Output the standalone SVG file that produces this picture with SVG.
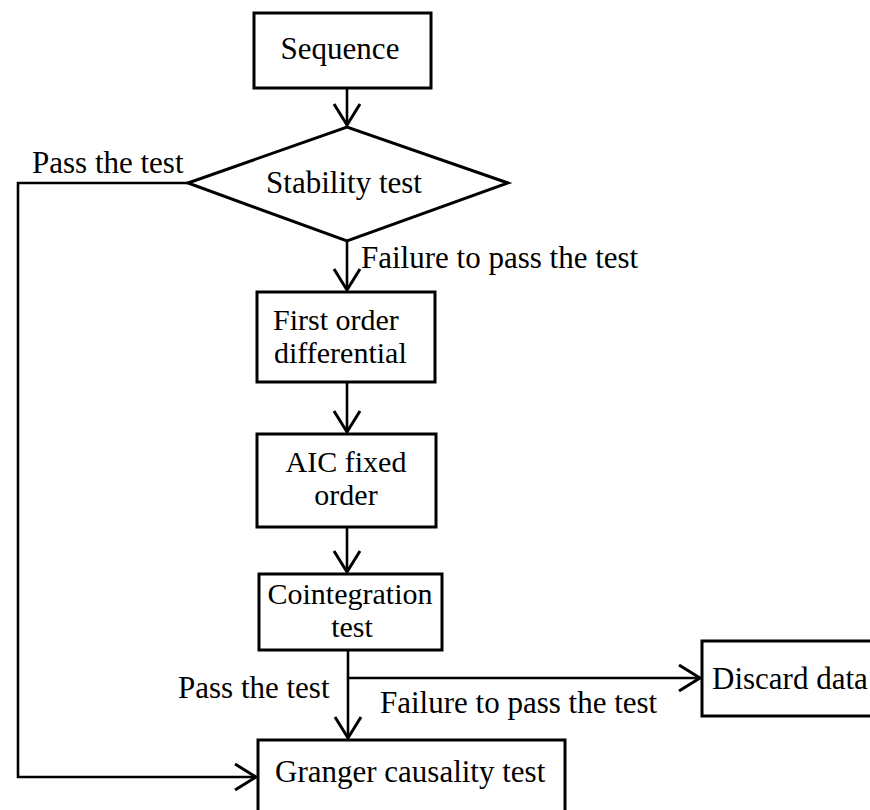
<svg xmlns="http://www.w3.org/2000/svg" width="870" height="810" viewBox="0 0 870 810">
  <style>
    .box { fill: #ffffff; stroke: #000000; stroke-width: 3; }
    .edge { fill: none; stroke: #000000; stroke-width: 2.6; }
    .lbl { font-family: 'Liberation Serif', 'Times New Roman', serif; font-size: 31px; fill: #000000; }
    .two { font-size: 30px; }
    .mid { text-anchor: middle; }
  </style>
  <defs>
    <marker id="arrow" markerUnits="userSpaceOnUse" markerWidth="30" markerHeight="34" refX="0" refY="0" viewBox="-24 -17 30 34" orient="auto" overflow="visible">
      <path d="M -21 -13 L 0 0 L -21 13" fill="none" stroke="#000000" stroke-width="3"/>
    </marker>
  </defs>
  <rect width="870" height="810" fill="#ffffff"/>

  <!-- flow lines with open arrowheads, and their branch labels -->
  <g id="connectors">
    <line class="edge" x1="347" y1="88" x2="347" y2="125" marker-end="url(#arrow)"/>
    <line class="edge" x1="347" y1="241" x2="347" y2="290" marker-end="url(#arrow)"/>
    <polyline class="edge" points="188,183 18,183 18,777 256,777" marker-end="url(#arrow)"/>
    <line class="edge" x1="347" y1="382" x2="347" y2="432" marker-end="url(#arrow)"/>
    <line class="edge" x1="347" y1="527" x2="347" y2="572" marker-end="url(#arrow)"/>
    <line class="edge" x1="348" y1="650" x2="348" y2="738" marker-end="url(#arrow)"/>
    <line class="edge" x1="348" y1="678" x2="700" y2="678" marker-end="url(#arrow)"/>
    <text class="lbl" x="32" y="173">Pass the test</text>
    <text class="lbl" x="361" y="268">Failure to pass the test</text>
    <text class="lbl" x="178" y="698">Pass the test</text>
    <text class="lbl" x="380" y="713">Failure to pass the test</text>
  </g>

  <g id="sequence">
    <rect class="box" x="254" y="13" width="177" height="75"/>
    <text class="lbl mid" x="340" y="59">Sequence</text>
  </g>

  <g id="stability-test">
    <polygon class="box" stroke-width="2.6" points="188,183 347,127 508,183 347,241"/>
    <text class="lbl mid" x="344" y="193">Stability test</text>
  </g>

  <g id="first-order-differential">
    <rect class="box" x="257" y="292" width="178" height="90"/>
    <text class="lbl two" x="273" y="330">First order<tspan x="274" y="363">differential</tspan></text>
  </g>

  <g id="aic-fixed-order">
    <rect class="box" x="257" y="434" width="179" height="93"/>
    <text class="lbl two mid" x="346" y="472">AIC fixed<tspan x="346" y="505">order</tspan></text>
  </g>

  <g id="cointegration-test">
    <rect class="box" x="259" y="574" width="183" height="76"/>
    <text class="lbl two mid" x="350" y="604">Cointegration<tspan x="352" y="637">test</tspan></text>
  </g>

  <g id="discard-data">
    <rect class="box" x="702" y="641" width="172" height="75"/>
    <text class="lbl" x="712" y="689">Discard data</text>
  </g>

  <g id="granger-causality-test">
    <rect class="box" x="258" y="740" width="307" height="80"/>
    <text class="lbl" x="275" y="782">Granger causality test</text>
  </g>
</svg>
